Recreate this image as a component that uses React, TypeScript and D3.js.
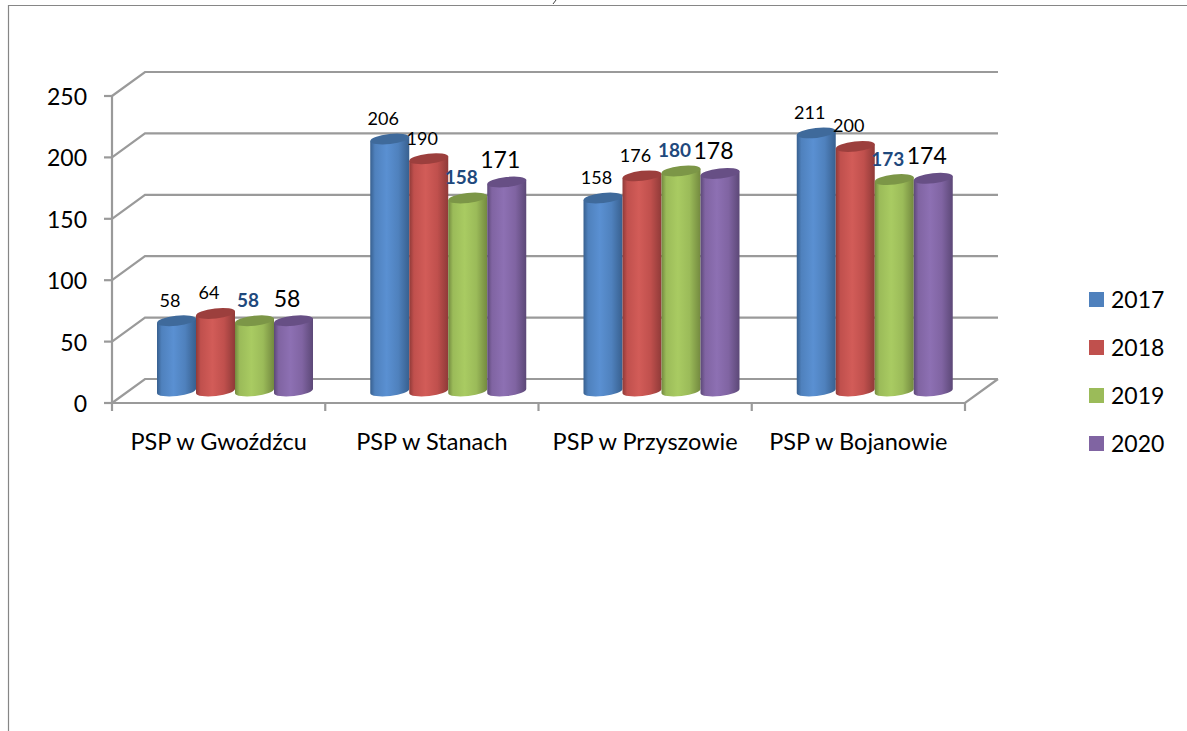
import React from "react";
import * as d3 from "d3";

const categories = ["PSP w Gwoźdźcu", "PSP w Stanach", "PSP w Przyszowie", "PSP w Bojanowie"];
const seriesNames = ["2017", "2018", "2019", "2020"];
const values2017 = [58, 206, 158, 211];
const values2018 = [64, 190, 176, 200];
const values2019 = [58, 158, 180, 173];
const values2020 = [58, 171, 178, 174];
const allSeries = [values2017, values2018, values2019, values2020];
const yTicks = [0, 50, 100, 150, 200, 250];
const colors = ["#4F81BD", "#C0504D", "#9BBB59", "#8064A2"];
const edgeColors = ["#38608f", "#8f3a38", "#73893f", "#5c4877"];
const lightColors = ["#5a90d2", "#d25c58", "#a9cb62", "#8d70b3"];
const topColors = ["#3f6a9b", "#9c3f3d", "#7c9647", "#674f85"];

const FONT = "Lato, Carlito, sans-serif";
const GRAY = "#9a9a9a";
const DX = 33;
const DY = -24;

const y = d3.scaleLinear().domain([0, 250]).range([403, 96]);
const xGroup = d3.scaleBand<string>().domain(categories).range([112, 965]);
const xBar = d3.scaleBand<string>().domain(seriesNames).range([45, 201]);

const RX = 19.5;
const RY = 5;
const TILT = 2.2;

function cylinder(x0: number, x1: number, yTop: number, yBase: number) {
  const rot = (Math.atan2(-2 * TILT, x1 - x0) * 180) / Math.PI;
  return {
    body: `M${x0},${yTop + TILT}L${x0},${yBase + TILT}A${RX},${RY} ${rot} 0 0 ${x1},${yBase - TILT}L${x1},${yTop - TILT}Z`,
    top: `M${x0},${yTop + TILT}A${RX},${RY} ${rot} 1 1 ${x1},${yTop - TILT}A${RX},${RY} ${rot} 1 1 ${x0},${yTop + TILT}Z`,
  };
}

export default function App() {
  const baseY = y(0) - 12;
  return (
    <svg
      width={1187}
      height={731}
      style={{ position: "absolute", left: 0, top: 0, background: "#fff" }}
      fontFamily={FONT}
    >
      <defs>
        {colors.map((c, i) => (
          <linearGradient key={i} id={`cyl${i}`} x1="0" x2="1" y1="0" y2="0">
            <stop offset="0" stopColor={edgeColors[i]} />
            <stop offset="0.12" stopColor={c} />
            <stop offset="0.42" stopColor={lightColors[i]} />
            <stop offset="0.72" stopColor={c} />
            <stop offset="1" stopColor={edgeColors[i]} />
          </linearGradient>
        ))}
      </defs>

      {/* frame */}
      <path d="M8.5,731V5.5H1187" fill="none" stroke="#868686" strokeWidth={1.2} />
      <path d="M556,0L553,4" fill="none" stroke="#444" strokeWidth={1} />

      {/* gridlines and walls */}
      <g fill="none" stroke={GRAY} strokeWidth={2.2}>
        {yTicks.map((t) => (
          <path
            key={t}
            d={`M112,${y(t)}L${112 + DX},${y(t) + DY}H${965 + DX}`}
          />
        ))}
        <path d={`M112,${y(250)}V${y(0)}H965L${965 + DX},${y(0) + DY}`} />
        {yTicks.map((t) => (
          <path key={`t${t}`} d={`M104,${y(t)}H112`} />
        ))}
        {[...categories.map((c) => xGroup(c)!), 965].map((xv) => (
          <path key={`x${xv}`} d={`M${xv},${y(0)}V${y(0) + 8}`} />
        ))}
      </g>

      {/* axis labels */}
      {yTicks.map((t) => (
        <text key={t} x={87} y={y(t) + 9} textAnchor="end" fontSize={23} fill="#000">
          {t}
        </text>
      ))}
      {categories.map((c) => (
        <text
          key={c}
          x={xGroup(c)! + xGroup.bandwidth() / 2}
          y={450}
          textAnchor="middle"
          fontSize={23.5}
          fill="#000"
        >
          {c}
        </text>
      ))}

      {/* cylinders */}
      {categories.map((c, ci) => (
        <g key={c}>
          {seriesNames.map((s, si) => {
            const x0 = xGroup(c)! + xBar(s)!;
            const x1 = x0 + xBar.bandwidth();
            const yTop = y(allSeries[si][ci]) - 11;
            const p = cylinder(x0, x1, yTop, baseY);
            return (
              <g key={s}>
                <path d={p.body} fill={`url(#cyl${si})`} />
                <path d={p.top} fill={topColors[si]} />
              </g>
            );
          })}
        </g>
      ))}

      {/* value labels */}
      {categories.map((c, ci) =>
        seriesNames.map((s, si) => {
          const cx = xGroup(c)! + xBar(s)! + xBar.bandwidth() / 2 - 6.5;
          const yTop = y(allSeries[si][ci]) - 11;
          const v = allSeries[si][ci];
          if (si === 2) {
            return (
              <text key={s + c} x={cx} y={yTop - 14} textAnchor="middle" fontSize={19} fontWeight={700} fill="#1F497D">
                {v}
              </text>
            );
          }
          if (si === 3) {
            return (
              <text key={s + c} x={cx} y={yTop - 14} textAnchor="middle" fontSize={23} fill="#000">
                {v}
              </text>
            );
          }
          return (
            <text key={s + c} x={cx} y={yTop - 14} textAnchor="middle" fontSize={18} fill="#000">
              {v}
            </text>
          );
        })
      )}

      {/* legend */}
      {seriesNames.map((s, i) => (
        <g key={s} transform={`translate(1089,${292 + i * 48})`}>
          <rect width={15} height={15} fill={colors[i]} />
          <text x={22} y={16} fontSize={23} fill="#000">
            {s}
          </text>
        </g>
      ))}
    </svg>
  );
}
